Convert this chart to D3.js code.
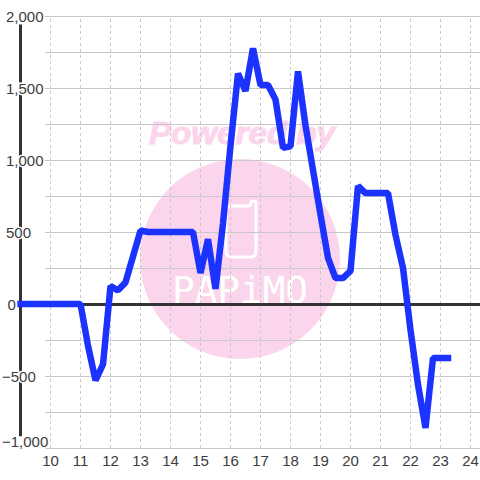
<!DOCTYPE html>
<html><head><meta charset="utf-8">
<script src="https://cdn.jsdelivr.net/npm/d3@7"></script>
<style>html,body{margin:0;padding:0;background:#fff}svg{display:block}</style></head>
<body><svg id="c" width="480" height="480"></svg>
<script>
const hours=[9,9.25,9.5,9.75,10,10.25,10.5,10.75,11,11.25,11.5,11.75,12,12.25,12.5,12.75,13,13.25,13.5,13.75,14,14.25,14.5,14.75,15,15.25,15.5,15.75,16,16.25,16.5,16.75,17,17.25,17.5,17.75,18,18.25,18.5,18.75,19,19.25,19.5,19.75,20,20.25,20.5,20.75,21,21.25,21.5,21.75,22,22.25,22.5,22.75,23,23.25];
const values=[0,0,0,0,0,0,0,0,0,-290,-530,-420,125,95,150,330,510,500,500,500,500,500,500,500,215,450,105,560,1100,1600,1480,1775,1520,1520,1420,1085,1095,1615,1240,930,620,320,180,180,230,820,770,770,770,770,480,250,-180,-560,-860,-375,-375,-375];
const yTicks=[2000,1500,1000,500,0,-500,-1000];
const yMinor=[1750,1250,750,250,-250,-750];
const xTicks=[10,11,12,13,14,15,16,17,18,19,20,21,22,23,24];
const svg=d3.select('#c');
const x=d3.scaleLinear().domain([10,24]).range([50,470]);
const y=d3.scaleLinear().domain([2000,-1000]).range([16,448]);
const font='"Liberation Sans",Arial,sans-serif';

// watermark
const wm=svg.append('g');
wm.append('circle').attr('cx',240).attr('cy',259).attr('r',100).attr('fill','#fbd5ec');
wm.append('text').attr('x',242).attr('y',144).attr('text-anchor','middle').attr('font-family',font).attr('font-weight','bold').attr('font-style','italic').attr('font-size',31).attr('textLength',186).attr('lengthAdjust','spacingAndGlyphs').attr('fill','#fbd5ec').attr('stroke','#fbd5ec').attr('stroke-width',1).text('Powered by');
wm.append('path').attr('d','M231 206H248Q251 206 251 203Q251 201 254 201Q256 201 256 204V251Q256 257 250 257H232Q226 257 226 251V211Q226 206 231 206Z').attr('fill','none').attr('stroke','#fff').attr('stroke-width',3);
wm.append('text').attr('x',240).attr('y',303).attr('text-anchor','middle').attr('font-family','"DejaVu Sans Mono",monospace').attr('font-size',38).attr('textLength',136).attr('lengthAdjust','spacingAndGlyphs').attr('fill','#fff').text('PAPiMO');

// horizontal grid
svg.append('g').attr('transform','translate(480,0)').call(d3.axisLeft(y).tickValues(yTicks.concat(yMinor)).tickSize(435).tickFormat(''))
  .call(g=>{g.select('.domain').remove();g.selectAll('line').attr('stroke','#c8c8c8');});
// vertical grid
svg.append('g').attr('transform','translate(0,448)').call(d3.axisBottom(x).tickValues(xTicks).tickSize(-432).tickFormat(''))
  .call(g=>{g.select('.domain').remove();g.selectAll('line').attr('stroke','#c8c8c8').attr('stroke-dasharray','3,3');});

// axis lines
const base=svg.append('g').attr('transform','translate(0.5,0.5)');
base.append('line').attr('x1',20).attr('x2',20).attr('y1',y(1945)).attr('y2',y(-915)).attr('stroke','#333').attr('stroke-width',3);
base.append('line').attr('x1',20).attr('x2',480).attr('y1',y(0)).attr('y2',y(0)).attr('stroke','#333').attr('stroke-width',3);

// series
const line=d3.line().x((d,i)=>x(hours[i])).y(d=>y(d));
svg.append('g').attr('transform','translate(0.5,0)').append('path').datum(values).attr('d',line).attr('fill','none').attr('stroke','#1c33ff').attr('stroke-width',6.5).attr('stroke-linejoin','bevel').attr('stroke-linecap','square');

// labels
const yAxis=svg.append('g').call(d3.axisLeft(y).tickValues(yTicks).tickSize(0).tickPadding(0).tickFormat(d3.format(',')));
yAxis.select('.domain').remove();
yAxis.selectAll('text').attr('font-family',font).attr('font-size',15).attr('fill','#3c3c3c').attr('stroke','#fff').attr('stroke-width',3).attr('paint-order','stroke')
  .attr('text-anchor','start').attr('x',d=>d<0?2:(d===0?7.5:6)).attr('dy','0.36em');
yAxis.selectAll('.tick').filter(d=>d===-1000).attr('transform',`translate(0,${y(-1000)-6.5})`);
const xAxis=svg.append('g').attr('transform','translate(0,448)').call(d3.axisBottom(x).tickValues(xTicks).tickSize(0).tickPadding(7).tickFormat(d3.format('d')));
xAxis.select('.domain').remove();
xAxis.selectAll('text').attr('font-family',font).attr('font-size',15).attr('fill','#3c3c3c');
</script></body></html>
